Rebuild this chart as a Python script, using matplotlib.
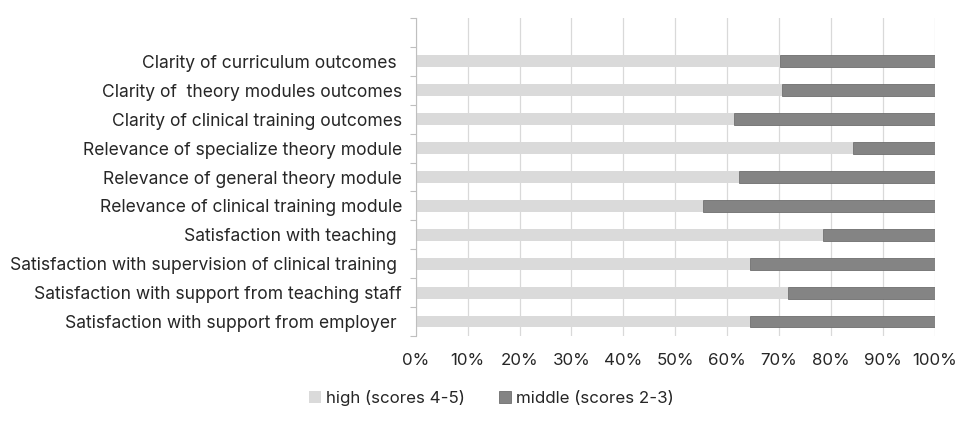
import matplotlib.pyplot as plt
from matplotlib.ticker import FixedLocator, PercentFormatter
import numpy as np

# Survey items (top to bottom) and share of responses
items = [
    "Clarity of curriculum outcomes ",
    "Clarity of  theory modules outcomes",
    "Clarity of clinical training outcomes",
    "Relevance of specialize theory module",
    "Relevance of general theory module",
    "Relevance of clinical training module",
    "Satisfaction with teaching ",
    "Satisfaction with supervision of clinical training ",
    "Satisfaction with support from teaching staff",
    "Satisfaction with support from employer ",
]
high = [70.1, 70.6, 61.3, 84.2, 62.2, 55.3, 78.4, 64.4, 71.8, 64.4]
middle = [100 - h for h in high]

plt.rcParams['font.family'] = ['Inter', 'DejaVu Sans']
fs = 12.2

fig = plt.figure(figsize=(9.67, 4.23), dpi=100)
ax = fig.add_axes([0.430, 0.2057, 0.5366, 0.7517])

# first slot (position 0) is left empty, like the source chart
y = np.arange(1, len(items) + 1)
ax.barh(y, high, height=0.41, color='#DADADA', label='high (scores 4-5)', zorder=2)
ax.barh(y, middle, left=high, height=0.41, color='#848484', edgecolor='#6E6E6E',
        linewidth=0.6, label='middle (scores 2-3)', zorder=2)

ax.set_ylim(len(items) + 0.5, -0.5)
ax.set_xlim(0, 100)
ax.set_yticks(y)
ax.set_yticklabels(items, fontsize=12.6, color='#262626')
ax.yaxis.set_minor_locator(FixedLocator(np.arange(-0.5, len(items) + 1, 1)))
ax.tick_params(axis='y', which='major', length=0, pad=10)
ax.tick_params(axis='y', which='minor', length=4, color='#BFBFBF', width=0.8)

ax.set_xticks(np.arange(0, 101, 10))
ax.xaxis.set_major_formatter(PercentFormatter(decimals=0))
ax.tick_params(axis='x', length=0, pad=12, labelsize=fs, labelcolor='#262626')
ax.grid(axis='x', color='#D9D9D9', lw=0.9, zorder=0)

for s in ['top', 'right', 'bottom']:
    ax.spines[s].set_visible(False)
ax.spines['left'].set_color('#BFBFBF')
ax.spines['left'].set_linewidth(0.8)

fig.legend(loc='center', bbox_to_anchor=(0.508, 0.059), ncol=2, frameon=False,
           fontsize=fs, handlelength=0.7, handleheight=0.7, handletextpad=0.3,
           columnspacing=2.0, labelcolor='#262626')

fig.savefig('out.png', dpi=100)
